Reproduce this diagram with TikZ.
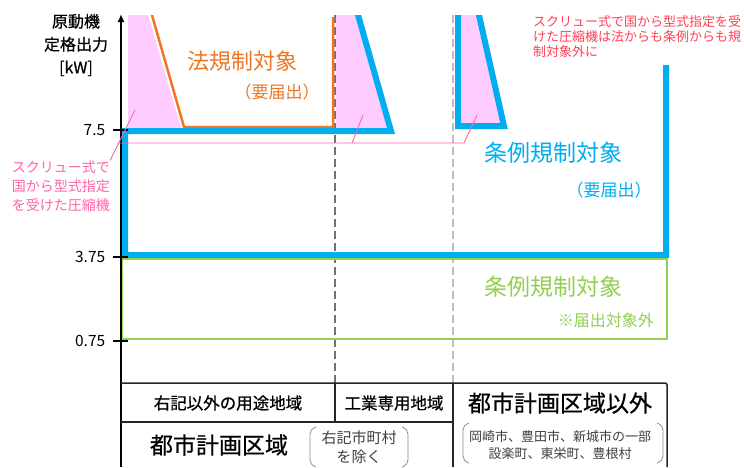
\documentclass[tikz,border=0pt]{standalone}
\usepackage{fontspec}
\newfontfamily\jp{Noto Sans CJK JP}
\newfontfamily\jpm[FakeBold=0.6]{Noto Sans CJK JP}
\usetikzlibrary{arrows.meta}

\definecolor{jblue}{RGB}{0,174,239}
\definecolor{jorange}{RGB}{238,118,36}
\definecolor{jgreen}{RGB}{146,208,80}
\definecolor{jpink}{RGB}{255,100,170}
\definecolor{jred}{RGB}{255,65,85}
\definecolor{pinkfill}{RGB}{255,204,255}

\newcommand{\jpsize}[2]{\jp\fontsize{#1}{#2}\selectfont}
\newcommand{\jpmsize}[2]{\jpm\fontsize{#1}{#2}\selectfont}

\tikzset{
  jtext/.style={inner sep=0pt, align=center},
  blueline/.style={draw=jblue, line width=6pt},
  lawline/.style={draw=jorange, line width=2.5pt},
  greenbox/.style={draw=jgreen, line width=1.6pt},
  tablerule/.style={draw=black!85, line width=1.5pt},
  paren/.style={draw=black!45, line width=0.8pt, rounded corners=5pt},
  pinkline/.style={draw=jpink, line width=0.9pt},
}

\begin{document}
\begin{tikzpicture}[x=1pt,y=-1pt]

\useasboundingbox[fill=white] (0,0) rectangle (744,467);

% exempt screw compressors
\fill[pinkfill] (128,15) -- (148,15) -- (181,128) -- (128,128) -- cycle;
\fill[pinkfill] (336,15) -- (357,15) -- (389,128) -- (336,128) -- cycle;
\fill[pinkfill] (461,15) -- (477,15) -- (502,123) -- (461,123) -- cycle;

\draw[black!55, line width=1.2pt, dash pattern=on 8pt off 4pt] (335,15) -- (335,383);
\draw[black!25, line width=2pt, dash pattern=on 8pt off 4pt] (453,15) -- (453,383);

\begin{scope}
\clip (0,15) rectangle (744,467);
\draw[lawline] (149.1,5) -- (184,127) -- (333,127) -- (333,17);
\draw[blueline] (355.2,5) -- (391,131) -- (125,131) -- (125,255) -- (666,255) -- (666,65);
\draw[blueline] (476.7,5) -- (504,126) -- (458,126) -- (458,5);
\end{scope}

\draw[greenbox] (122,259) -- (667,259) -- (667,339) -- (122,339) -- cycle;

\draw[line width=1.6pt,-{Latex[length=8pt,width=7pt]}] (121,467) -- (121,14);

\foreach \y/\val [count=\i] in {130/7.5,257/3.75,341/0.75}
    \draw[line width=1.5pt] (128,\y) -- (113,\y) node[jtext, anchor=east, xshift=-7pt, font=\jpsize{15.5}{18}] (tick\i) {\val};

\node[jtext, font=\jpmsize{16}{23}] (ytitle) at (76,45) {原動機\\定格出力\\{[kW]}};

% labels in the chart
\node[jtext, text=jorange, font=\jpsize{22}{26}] (lawtitle) at (242,61) {法規制対象};
\node[jtext, text=jorange, font=\jpsize{17}{20}] (lawnote) at (277,92) {（要届出）};
\node[jtext, text=jblue, font=\jpsize{23}{26}] (bluetitle) at (553,153) {条例規制対象};
\node[jtext, text=jblue, font=\jpsize{17}{20}] (bluenote) at (609,190) {（要届出）};
\node[jtext, text=jgreen, font=\jpsize{23}{26}] (greentitle) at (553,287) {条例規制対象};
\node[jtext, text=jgreen, font=\jpsize{16}{19}, anchor=east] (greennote) at (654,320) {※届出対象外};

\node[jtext, text=jred, align=left, anchor=west, font=\jpsize{13}{15}] (topnote) at (533,37) {スクリュー式で国から型式指定を受\\けた圧縮機は法からも条例からも規\\制対象外に};
\node[jtext, text=jpink, font=\jpsize{14}{19}] (screwnote) at (61,186) {スクリュー式で\\国から型式指定\\を受けた圧縮機};

\coordinate (pk1) at (135,110);
\coordinate (pk2) at (363,115);
\coordinate (pk3) at (477,115);
\coordinate (jn1) at (117,143);
\coordinate (jn2) at (352,143);
\coordinate (jn3) at (464,143);
\draw[pinkline] (screwnote.north east) -- (pk1);
\draw[pinkline] (jn1) -- (jn3) -- (pk3);
\draw[pinkline] (jn2) -- (pk2);

% area table
\draw[tablerule, rounded corners=2pt] (121,383) -- (667,383) -- (667,467);
\draw[tablerule] (121,422) -- (453,422);
\draw[tablerule] (335,383) -- (335,422);
\draw[tablerule] (453,383) -- (453,467);

\node[jtext, font=\jpmsize{16.5}{20}] (zone1) at (228,403) {右記以外の用途地域};
\node[jtext, font=\jpmsize{16.5}{20}] (zone2) at (394,403) {工業専用地域};
\node[jtext, font=\jpmsize{23}{26}] (outside) at (560,403) {都市計画区域以外};
\node[jtext, font=\jpmsize{23}{26}] (cityarea) at (219,445) {都市計画区域};
\node[jtext, text=black!75, font=\jpsize{15}{19}] (exceptnote) at (359,447) {右記市町村\\を除く};
\node[jtext, text=black!75, font=\jpsize{13}{17}] (townnote) at (560,445) {岡崎市、豊田市、新城市の一部\\設楽町、東栄町、豊根村};

\draw[paren] (316,427) -- (310,429) -- (310,465) -- (316,467);
\draw[paren] (402,427) -- (408,429) -- (408,465) -- (402,467);
\draw[paren] (469,423) -- (463,425) -- (463,461) -- (469,463);
\draw[paren] (657,423) -- (663,425) -- (663,461) -- (657,463);

\end{tikzpicture}
\end{document}
